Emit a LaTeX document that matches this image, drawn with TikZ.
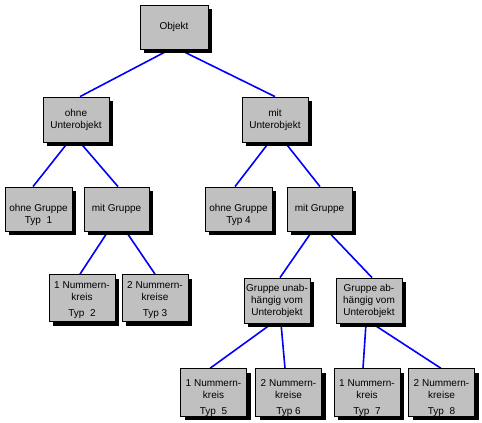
\documentclass[tikz,border=0pt]{standalone}
\usepackage{fontspec}
\setmainfont{Liberation Sans}
\usetikzlibrary{shadows,backgrounds}
\definecolor{boxgray}{HTML}{C0C0C0}
\definecolor{linkblue}{HTML}{0000FF}
\begin{document}
\begin{tikzpicture}[x=1pt,y=-1pt,
  box/.style={draw=black, line width=0.8pt, fill=boxgray, inner sep=0pt,
    align=center, font=\fontsize{10}{12}\selectfont,
    minimum width=66pt, minimum height=45pt,
    general shadow={fill=black, shadow xshift=4pt, shadow yshift=-4pt}},
  link/.style={draw=linkblue, line width=1.6pt}]
\useasboundingbox (0,0) rectangle (482,423);
% nodes
\node[box, minimum width=68pt, minimum height=44pt] (obj) at (174,27) {Objekt};
\node[box] (ou) at (76,119.5) {ohne\\Unterobjekt};
\node[box] (mu) at (275,119.5) {mit\\Unterobjekt};
\node[box, minimum width=67pt, minimum height=44pt] (og1) at (38.5,209) {\rule{0pt}{19pt}ohne Gruppe\\Typ~~1};
\node[box, minimum width=65pt, minimum height=44pt] (mg1) at (116.5,209) {mit Gruppe};
\node[box, minimum width=67pt, minimum height=44pt] (og4) at (238.5,209) {\rule{0pt}{19pt}ohne Gruppe\\Typ 4};
\node[box, minimum width=65pt, minimum height=44pt] (mg2) at (319.5,209) {mit Gruppe};
\node[box, minimum height=47pt] (n1) at (82,298) {\rule{0pt}{11.5pt}1 Nummern-\\kreis\\[4pt]Typ~~2};
\node[box, minimum height=47pt] (n2) at (155,298) {\rule{0pt}{11.5pt}2 Nummern-\\kreise\\[4pt]Typ 3};
\node[box] (gu) at (277,300.5) {Gruppe unab-\\hängig vom\\Unterobjekt};
\node[box] (ga) at (369,300.5) {Gruppe ab-\\hängig vom\\Unterobjekt};
\node[box] (b1) at (213.5,392.5) {\rule{0pt}{17.5pt}1 Nummern-\\kreis\\[4pt]Typ~~5};
\node[box] (b2) at (288.5,392.5) {\rule{0pt}{17.5pt}2 Nummern-\\kreise\\[4pt]Typ 6};
\node[box] (b3) at (367,392.5) {\rule{0pt}{17.5pt}1 Nummern-\\kreis\\[4pt]Typ~~7};
\node[box] (b4) at (441.5,392.5) {\rule{0pt}{17.5pt}2 Nummern-\\kreise\\[4pt]Typ~~8};
% connectors
\begin{scope}[on background layer]
\draw[link] ([xshift=-4pt]obj.south) -- ([xshift=4pt]ou.north);
\draw[link] ([xshift=5pt]obj.south) -- (mu.north);
\draw[link] ([xshift=-8pt]ou.south) -- ([xshift=-5.5pt]og1.north);
\draw[link] ([xshift=4pt]ou.south) -- ([xshift=1.5pt]mg1.north);
\draw[link] ([xshift=-6pt]mu.south) -- ([xshift=-3.5pt]og4.north);
\draw[link] ([xshift=10pt]mu.south) -- ([xshift=0.5pt]mg2.north);
\draw[link] ([xshift=-8.5pt]mg1.south) -- ([xshift=-2pt]n1.north);
\draw[link] ([xshift=9.5pt]mg1.south) -- (n2.north);
\draw[link] ([xshift=-7.5pt]mg2.south) -- ([xshift=3pt]gu.north);
\draw[link] ([xshift=8.5pt]mg2.south) -- ([xshift=3pt]ga.north);
\draw[link] ([xshift=-5pt]gu.south) -- ([xshift=-3.5pt]b1.north);
\draw[link] ([xshift=4pt]gu.south) -- ([xshift=-3.5pt]b2.north);
\draw[link] ([xshift=-3pt]ga.south) -- ([xshift=-4pt]b3.north);
\draw[link] ([xshift=3pt]ga.south) -- ([xshift=-0.5pt]b4.north);
\end{scope}
\end{tikzpicture}
\end{document}
